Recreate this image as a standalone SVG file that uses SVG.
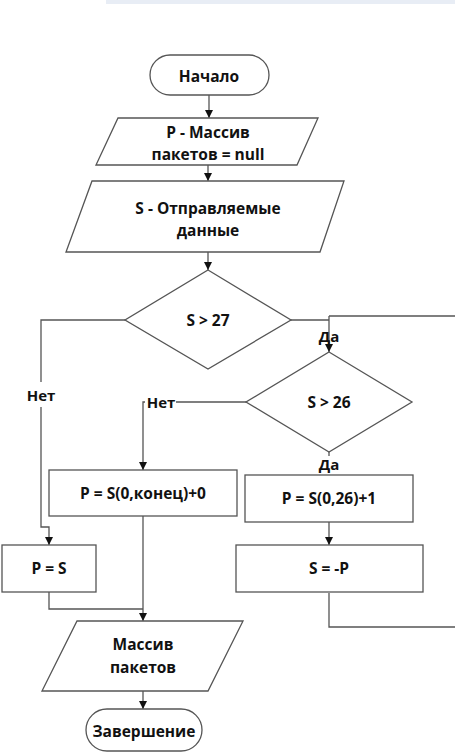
<svg xmlns="http://www.w3.org/2000/svg" width="455" height="752" viewBox="0 0 455 752">
<defs>
<marker id="arr" markerWidth="10" markerHeight="10" refX="9" refY="5" orient="auto" markerUnits="userSpaceOnUse">
<path d="M1,1 L9,5 L1,9 Z" fill="#111"/>
</marker>
<style>
.shape{fill:#fff;stroke:#555;stroke-width:1.3}
.line{fill:none;stroke:#555;stroke-width:1.3}
.t{font-family:"Open Sans","Liberation Sans",sans-serif;font-weight:bold;font-size:15.5px;fill:#111;text-anchor:middle;dominant-baseline:central}
.lbl{font-family:"Open Sans","Liberation Sans",sans-serif;font-weight:bold;font-size:15px;fill:#111;text-anchor:middle;dominant-baseline:central}
</style>
</defs>
<rect x="106" y="0" width="349" height="4" fill="#e8edf5"/>
<g id="connectors">
<line class="line" x1="209" y1="95" x2="209" y2="118" marker-end="url(#arr)"/>
<line class="line" x1="208" y1="165" x2="208" y2="181" marker-end="url(#arr)"/>
<line class="line" x1="208" y1="252" x2="208" y2="270" marker-end="url(#arr)"/>
<polyline class="line" points="291,320 329,320"/>
<polyline class="line" points="329,316 455,316"/>
<line class="line" x1="329" y1="316" x2="329" y2="352" marker-end="url(#arr)"/>
<polyline class="line" points="125,320 41,320 41,382"/>
<polyline class="line" points="41,407 41,527 49,527 49,545" marker-end="url(#arr)"/>
<polyline class="line" points="246,402 176,402"/>
<polyline class="line" points="145,402 143,402 143,470" marker-end="url(#arr)"/>
<line class="line" x1="329" y1="452" x2="329" y2="456"/>
<line class="line" x1="329" y1="522" x2="329" y2="545" marker-end="url(#arr)"/>
<polyline class="line" points="329,593 329,627 455,627"/>
<polyline class="line" points="49,592 49,609 143,609"/>
<line class="line" x1="143" y1="516" x2="143" y2="621" marker-end="url(#arr)"/>
<line class="line" x1="143" y1="691" x2="143" y2="709" marker-end="url(#arr)"/>
<text class="lbl" x="329" y="336">Да</text>
<text class="lbl" x="41" y="395">Нет</text>
<text class="lbl" x="161" y="402">Нет</text>
<text class="lbl" x="329" y="464">Да</text>
</g>
<g id="start">
<rect class="shape" x="150" y="55" width="119" height="40" rx="20"/>
<text class="t" x="209" y="76">Начало</text>
</g>
<g id="init">
<polygon class="shape" points="118,118 318,118 297,165 96,165"/>
<text class="t" x="208" y="132">P - Массив</text>
<text class="t" x="208" y="154">пакетов = null</text>
</g>
<g id="input">
<polygon class="shape" points="92,181 344,181 320,252 66,252"/>
<text class="t" x="208" y="208">S - Отправляемые</text>
<text class="t" x="208" y="230">данные</text>
</g>
<g id="cond27">
<polygon class="shape" points="208,270 291,320 208,369 125,320"/>
<text class="t" x="208" y="320">S &gt; 27</text>
</g>
<g id="cond26">
<polygon class="shape" points="329,352 412,402 329,452 246,402"/>
<text class="t" x="329" y="402">S &gt; 26</text>
</g>
<g id="p_end">
<rect class="shape" x="49" y="470" width="188" height="46"/>
<text class="t" x="143" y="493">P = S(0,конец)+0</text>
</g>
<g id="p_26">
<rect class="shape" x="245" y="475" width="168" height="47"/>
<text class="t" x="329" y="498">P = S(0,26)+1</text>
</g>
<g id="s_neg">
<rect class="shape" x="236" y="545" width="187" height="47"/>
<text class="t" x="329" y="568">S = -P</text>
</g>
<g id="p_s">
<rect class="shape" x="2" y="545" width="94" height="47"/>
<text class="t" x="49" y="568">P = S</text>
</g>
<g id="output">
<polygon class="shape" points="77,621 243,621 208,691 42,691"/>
<text class="t" x="143" y="644">Массив</text>
<text class="t" x="143" y="667">пакетов</text>
</g>
<g id="end">
<rect class="shape" x="86" y="709" width="116" height="42" rx="21"/>
<text class="t" x="144" y="731">Завершение</text>
</g>
</svg>
